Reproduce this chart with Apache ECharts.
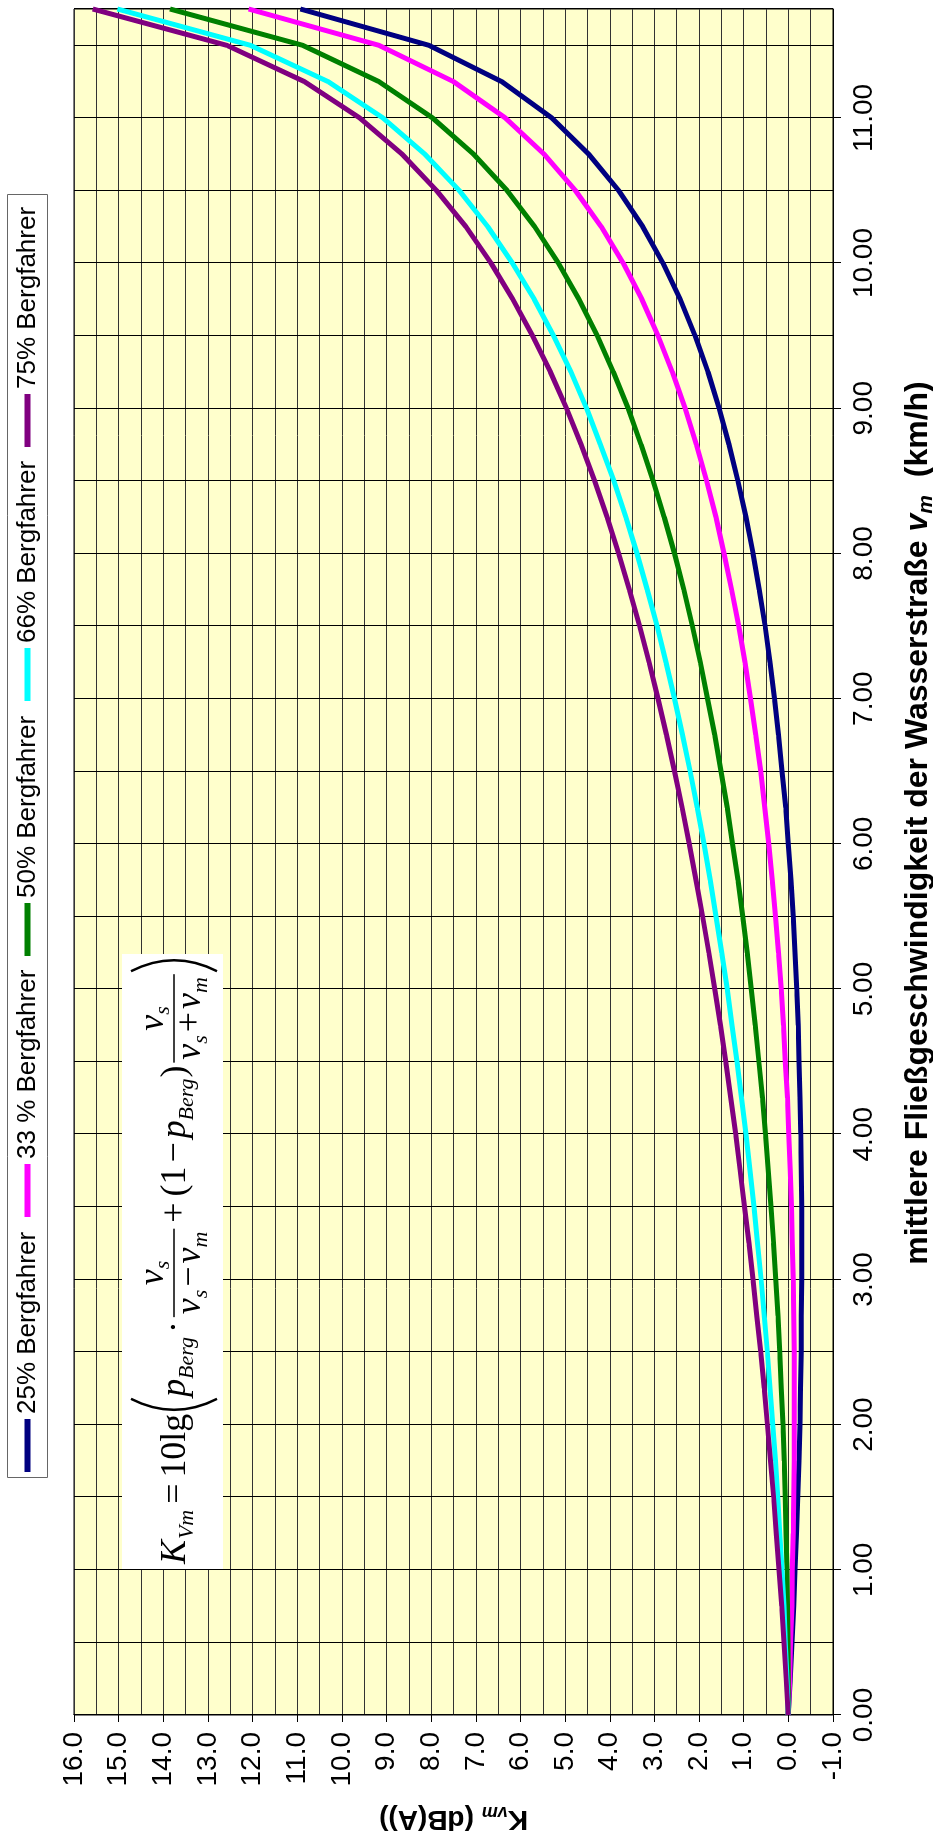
<!DOCTYPE html>
<html>
<head>
<meta charset="utf-8">
<title>K_vm Bergfahrer</title>
<script src="https://cdn.jsdelivr.net/npm/echarts@6/dist/echarts.min.js"></script>
<style>
  html, body { margin: 0; padding: 0; background: #fff; overflow: hidden; }
  /* das Diagramm ist im Original um 90° gedreht */
  #chart {
    position: absolute; left: 0; top: 0;
    width: 1831px; height: 933px;
    transform-origin: 0 0;
    transform: translate(0, 1831px) rotate(-90deg);
  }
</style>
</head>
<body>
<div id="chart"></div>
<script>
// mittlere Fließgeschwindigkeit v_m (km/h)
const vm = [0, 0.25, 0.5, 0.75, 1, 1.25, 1.5, 1.75, 2, 2.25, 2.5, 2.75, 3, 3.25, 3.5, 3.75,
  4, 4.25, 4.5, 4.75, 5, 5.25, 5.5, 5.75, 6, 6.25, 6.5, 6.75, 7, 7.25, 7.5, 7.75,
  8, 8.25, 8.5, 8.75, 9, 9.25, 9.5, 9.75, 10, 10.25, 10.5, 10.75, 11, 11.25, 11.5, 11.75]

// K_vm (dB(A)) je Anteil Bergfahrer
const berg25 = [0, -0.04, -0.08, -0.12, -0.15, -0.18, -0.21, -0.24, -0.26, -0.27, -0.29, -0.29,
  -0.30, -0.30, -0.30, -0.29, -0.28, -0.26, -0.24, -0.22, -0.19, -0.15, -0.11, -0.06,
  0.00, 0.06, 0.14, 0.22, 0.31, 0.41, 0.52, 0.65, 0.79, 0.95, 1.13, 1.33,
  1.55, 1.80, 2.09, 2.42, 2.81, 3.26, 3.80, 4.47, 5.30, 6.42, 8.05, 10.93]
const berg33 = [0, -0.03, -0.05, -0.08, -0.09, -0.11, -0.12, -0.13, -0.13, -0.13, -0.13, -0.12,
  -0.11, -0.09, -0.07, -0.04, -0.01, 0.02, 0.07, 0.11, 0.16, 0.22, 0.29, 0.36,
  0.44, 0.53, 0.62, 0.73, 0.85, 0.97, 1.11, 1.27, 1.44, 1.62, 1.83, 2.06,
  2.31, 2.60, 2.92, 3.28, 3.70, 4.19, 4.77, 5.47, 6.34, 7.50, 9.17, 12.09]
const berg50 = [0, 0.00, 0.01, 0.02, 0.03, 0.05, 0.07, 0.09, 0.12, 0.16, 0.19, 0.23,
  0.28, 0.33, 0.39, 0.45, 0.51, 0.58, 0.66, 0.74, 0.83, 0.92, 1.02, 1.13,
  1.25, 1.37, 1.51, 1.65, 1.81, 1.97, 2.15, 2.34, 2.55, 2.78, 3.03, 3.30,
  3.59, 3.92, 4.28, 4.69, 5.15, 5.68, 6.30, 7.05, 7.97, 9.17, 10.88, 13.85]
const berg66 = [0, 0.03, 0.07, 0.10, 0.14, 0.19, 0.24, 0.29, 0.35, 0.41, 0.47, 0.54,
  0.61, 0.69, 0.77, 0.86, 0.95, 1.05, 1.15, 1.26, 1.37, 1.49, 1.62, 1.75,
  1.89, 2.04, 2.20, 2.37, 2.55, 2.74, 2.94, 3.16, 3.39, 3.64, 3.91, 4.21,
  4.52, 4.87, 5.26, 5.69, 6.18, 6.73, 7.37, 8.14, 9.08, 10.31, 12.05, 15.03]
const berg75 = [0, 0.05, 0.10, 0.15, 0.21, 0.27, 0.33, 0.40, 0.47, 0.54, 0.62, 0.71,
  0.79, 0.88, 0.98, 1.08, 1.18, 1.29, 1.40, 1.52, 1.65, 1.78, 1.92, 2.07,
  2.22, 2.38, 2.55, 2.73, 2.92, 3.12, 3.33, 3.56, 3.80, 4.06, 4.34, 4.64,
  4.97, 5.33, 5.73, 6.17, 6.66, 7.22, 7.88, 8.65, 9.60, 10.84, 12.58, 15.58]

const seriesNames = ['25% Bergfahrer', '33 % Bergfahrer', '50% Bergfahrer', '66% Bergfahrer', '75% Bergfahrer']
const seriesColors = ['#000080', '#FF00FF', '#008000', '#00FFFF', '#800080']
const seriesValues = [berg25, berg33, berg50, berg66, berg75]

// Achsenbeschriftung
const xTickValues = [0, 1, 2, 3, 4, 5, 6, 7, 8, 9, 10, 11]
const yTickValues = [-1, 0, 1, 2, 3, 4, 5, 6, 7, 8, 9, 10, 11, 12, 13, 14, 15, 16]

const sans = 'Liberation Sans'
const serif = 'Liberation Serif'

const chart = echarts.init(document.getElementById('chart'), null, { renderer: 'canvas' })

// Textbreite für das Setzen der Formel
const measureCtx = document.createElement('canvas').getContext('2d')
function textWidth(text, size, italic) {
  measureCtx.font = (italic ? 'italic ' : '') + size + 'px "' + serif + '"'
  return measureCtx.measureText(text).width
}

function t(text, x, y, size, italic, family) {
  return {
    type: 'text', x: x, y: y, z: 11,
    style: {
      text: text, fill: '#000',
      fontFamily: family || serif, fontSize: size, fontStyle: italic ? 'italic' : 'normal',
      align: 'left', verticalAlign: 'middle',
      textAlign: 'left', textVerticalAlign: 'middle',
    },
  }
}
function bar(x1, x2, y) {
  return { type: 'line', z: 11, shape: { x1: x1, y1: y, x2: x2, y2: y }, style: { stroke: '#000', lineWidth: 1.5 } }
}
function paren(xEnd, xCtrl) {
  return {
    type: 'bezierCurve', z: 11,
    shape: { x1: xEnd, y1: 131, cpx1: xCtrl, cpy1: 174, x2: xEnd, y2: 217 },
    style: { stroke: '#000', lineWidth: 2.5, fill: 'none' },
  }
}

// K_Vm = 10lg( p_Berg · vs/(vs − vm) + (1 − p_Berg) vs/(vs + vm) )
const yMain = 176, ySub = 187, yNum = 154, yNumSub = 163, yDen = 191, yDenSub = 201, yBar = 174
function buildFormula(k) {
  const F = 36 * k, S = 22 * k
  const els = []
  let cx = 267
  const put = (text, size, italic, y, gap) => {
    els.push(t(text, cx, y, size, italic))
    cx += textWidth(text, size, italic) + (gap || 0) * k
  }
  const partsWidth = (parts) => parts.reduce((s, p) => s + textWidth(p[0], p[1] ? S : F, p[2]) + (p[3] || 0) * k, 0)
  const place = (parts, x0, yM, yS) => {
    let x = x0
    parts.forEach((p) => {
      const size = p[1] ? S : F
      els.push(t(p[0], x, p[1] ? yS : yM, size, p[2]))
      x += textWidth(p[0], size, p[2]) + (p[3] || 0) * k
    })
  }
  const frac = (num, den) => {
    const wn = partsWidth(num), wd = partsWidth(den)
    const bw = Math.max(wn, wd) + 6 * k
    place(num, cx + (bw - wn) / 2, yNum, yNumSub)
    place(den, cx + (bw - wd) / 2, yDen, yDenSub)
    els.push(bar(cx, cx + bw, yBar))
    cx += bw
  }
  const bigParen = (open) => {
    const w = 15 * k
    if (open) els.push(paren(cx + w - 2, 2 * (cx + 2) - (cx + w - 2)))
    else els.push(paren(cx + 2, 2 * (cx + w - 2) - (cx + 2)))
    cx += w
  }
  const num = [['v', 0, 1], ['s', 1, 1]]
  put('K', F, true, yMain, 1)
  put('Vm', S, true, ySub, 6)
  put('=', F, false, yMain, 6)
  put('10lg', F, false, yMain, 2)
  bigParen(true)
  put('p', F, true, yMain, 0)
  put('Berg', S, true, ySub, 4)
  put('·', F, false, yMain, 4)
  frac(num, [['v', 0, 1], ['s', 1, 1, 3], ['−', 0, 0, 3], ['v', 0, 1], ['m', 1, 1]])
  cx += 6 * k
  put('+', F, false, yMain, 6)
  put('(', F, false, yMain, 0)
  put('1', F, false, yMain, 4)
  put('−', F, false, yMain, 4)
  put('p', F, true, yMain, 0)
  put('Berg', S, true, ySub, 1)
  put(')', F, false, yMain, 3)
  frac(num, [['v', 0, 1], ['s', 1, 1, 3], ['+', 0, 0, 3], ['v', 0, 1], ['m', 1, 1]])
  cx += 1 * k
  bigParen(false)
  return { els: els, end: cx }
}
let formulaLayout = buildFormula(1)
formulaLayout = buildFormula((873 - 267) / (formulaLayout.end - 267))

const formula = [
  { type: 'rect', z: 10, shape: { x: 262, y: 122, width: 615, height: 101 }, style: { fill: '#fff' } },
].concat(formulaLayout.els)

// Legende (im Original als Kasten über dem Diagramm)
const legendStarts = [359, 614, 875, 1130, 1384]
const legendEls = [
  { type: 'rect', z: 11, shape: { x: 353.5, y: 7.5, width: 1283, height: 40 }, style: { fill: '#fff', stroke: '#666', lineWidth: 1 } },
]
seriesNames.forEach((name, i) => {
  legendEls.push({ type: 'rect', z: 12, shape: { x: legendStarts[i], y: 24.5, width: 53, height: 6 }, style: { fill: seriesColors[i] } })
  legendEls.push(t(name, legendStarts[i] + 58, 28, 26, false, sans))
})

const xTitle = {
  type: 'text', x: 1008, y: 918, z: 11,
  style: {
    text: '{b|mittlere Fließgeschwindigkeit der Wasserstraße }{v|v}{m|m}{b|  (km/h)}',
    align: 'center', verticalAlign: 'middle', textAlign: 'center', textVerticalAlign: 'middle',
    fill: '#000',
    rich: {
      b: { fontFamily: sans, fontSize: 32, fontWeight: 'bold', lineHeight: 38 },
      v: { fontFamily: sans, fontSize: 32, fontWeight: 'bold', fontStyle: 'italic', lineHeight: 38 },
      m: { fontFamily: sans, fontSize: 21, fontWeight: 'bold', fontStyle: 'italic', lineHeight: 38, verticalAlign: 'bottom' },
    },
  },
}

const option = {
  animation: false,
  backgroundColor: '#fff',
  grid: {
    left: 116, right: 9, top: 74, bottom: 100,
    show: true, backgroundColor: '#FFFFCC', borderColor: '#000', borderWidth: 1,
    outerBoundsMode: 'none',
  },
  xAxis: [
    {
      // Gitterlinien alle 0,5 km/h
      type: 'value', min: 0, max: 11.75, interval: 0.5,
      axisLine: { show: false }, axisTick: { show: false }, axisLabel: { show: false },
      splitLine: { show: true, lineStyle: { color: '#000', width: 1 } },
    },
    {
      type: 'value', min: 0, max: 11.75, interval: 1, position: 'bottom',
      axisLine: { show: true, onZero: false, lineStyle: { color: '#000', width: 1 } },
      axisTick: { show: true, inside: false, length: 8, customValues: xTickValues, lineStyle: { color: '#000' } },
      axisLabel: {
        show: true, margin: 17, customValues: xTickValues,
        fontFamily: sans, fontSize: 28, color: '#000',
        formatter: (v) => (Number.isInteger(v) ? v.toFixed(2) : ''),
      },
      splitLine: { show: false },
    },
  ],
  yAxis: [
    {
      // Gitterlinien alle 0,5 dB(A)
      type: 'value', min: -1, max: 16, interval: 0.5,
      axisLine: { show: false }, axisTick: { show: false }, axisLabel: { show: false },
      splitLine: { show: true, lineStyle: { color: '#333', width: 1 } },
    },
    {
      type: 'value', min: -1, max: 16, interval: 1, position: 'left',
      axisLine: { show: true, onZero: false, lineStyle: { color: '#000', width: 1 } },
      axisTick: { show: true, inside: false, length: 7, customValues: yTickValues, lineStyle: { color: '#000' } },
      axisLabel: {
        show: true, margin: 17, customValues: yTickValues,
        fontFamily: sans, fontSize: 28, color: '#000',
        formatter: (v) => v.toFixed(1),
      },
      splitLine: { show: false },
      name: '{k|K}{s|vm}{n| (dB(A))}',
      nameLocation: 'middle', nameRotate: 90, nameGap: 88,
      nameTextStyle: {
        rich: {
          k: { fontFamily: sans, fontSize: 28, fontWeight: 'bold', color: '#000', lineHeight: 32 },
          s: { fontFamily: sans, fontSize: 18, fontWeight: 'bold', fontStyle: 'italic', color: '#000', lineHeight: 32, verticalAlign: 'bottom' },
          n: { fontFamily: sans, fontSize: 28, fontWeight: 'bold', color: '#000', lineHeight: 32 },
        },
      },
    },
  ],
  series: seriesValues.map((vals, i) => ({
    name: seriesNames[i],
    type: 'line',
    xAxisIndex: 0,
    yAxisIndex: 0,
    showSymbol: false,
    symbol: 'none',
    color: seriesColors[i],
    lineStyle: { color: seriesColors[i], width: 5 },
    data: vm.map((v, j) => [v, vals[j]]),
    z: 3,
  })),
  graphic: { elements: formula.concat(legendEls, [xTitle]) },
}

chart.setOption(option)
</script>
</body>
</html>
